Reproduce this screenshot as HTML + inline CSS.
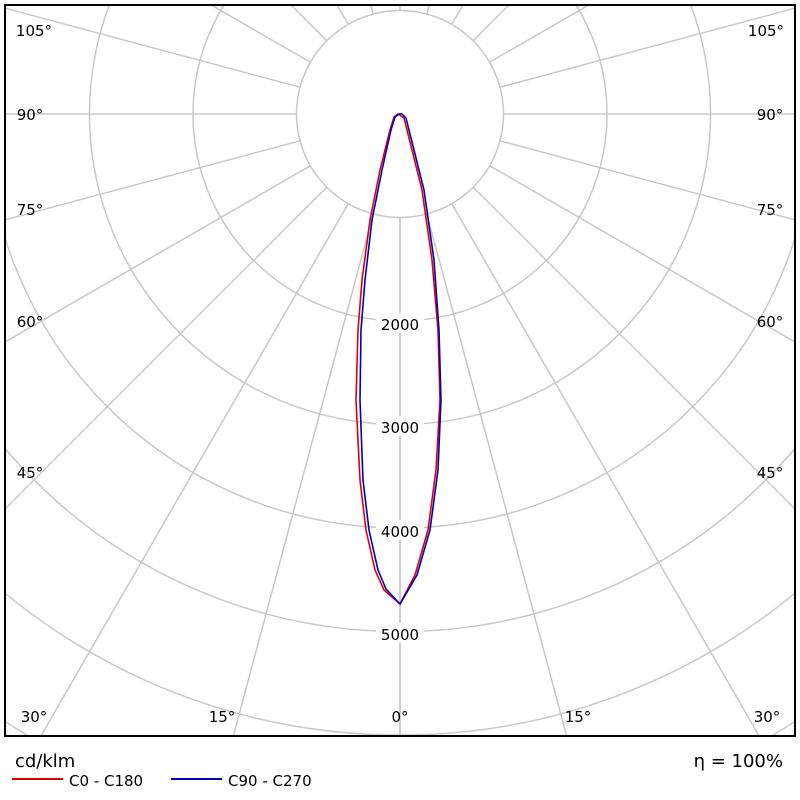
<!DOCTYPE html>
<html><head><style>html,body{margin:0;padding:0;background:#fff;overflow:hidden;width:800px;height:800px}svg{display:block}</style></head><body>
<svg width="800" height="800" xmlns="http://www.w3.org/2000/svg" font-family="DejaVu Sans, Liberation Sans, sans-serif">
<defs><clipPath id="c"><rect x="5" y="5" width="790" height="731"/></clipPath></defs>
<g clip-path="url(#c)" stroke="#c8c8c8" stroke-width="1.5" fill="none">
<circle cx="400" cy="114" r="103.5"/>
<circle cx="400" cy="114" r="207"/>
<circle cx="400" cy="114" r="310.5"/>
<circle cx="400" cy="114" r="414"/>
<circle cx="400" cy="114" r="517.5"/>
<circle cx="400" cy="114" r="621"/>
<circle cx="400" cy="114" r="724.5"/>
<circle cx="400" cy="114" r="828"/>
<g id="rl">
<line x1="400" y1="217.5" x2="400" y2="1200"/>
<line x1="400" y1="217.5" x2="400" y2="1200" transform="rotate(15 400 114)"/>
<line x1="400" y1="217.5" x2="400" y2="1200" transform="rotate(30 400 114)"/>
<line x1="400" y1="217.5" x2="400" y2="1200" transform="rotate(45 400 114)"/>
<line x1="400" y1="217.5" x2="400" y2="1200" transform="rotate(60 400 114)"/>
<line x1="400" y1="217.5" x2="400" y2="1200" transform="rotate(75 400 114)"/>
<line x1="400" y1="217.5" x2="400" y2="1200" transform="rotate(90 400 114)"/>
<line x1="400" y1="217.5" x2="400" y2="1200" transform="rotate(105 400 114)"/>
<line x1="400" y1="217.5" x2="400" y2="1200" transform="rotate(120 400 114)"/>
<line x1="400" y1="217.5" x2="400" y2="1200" transform="rotate(135 400 114)"/>
<line x1="400" y1="217.5" x2="400" y2="1200" transform="rotate(150 400 114)"/>
<line x1="400" y1="217.5" x2="400" y2="1200" transform="rotate(165 400 114)"/>
<line x1="400" y1="217.5" x2="400" y2="1200" transform="rotate(180 400 114)"/>
</g>
<use href="#rl" transform="matrix(-1 0 0 1 800 0)"/>
</g>
<g font-size="15" fill="#000" text-anchor="middle">
<g fill="#fff"><rect x="376" y="313" width="48" height="20"/><rect x="376" y="416" width="48" height="20"/><rect x="376" y="520" width="48" height="20"/><rect x="376" y="623" width="48" height="20"/></g>
<text x="400" y="330">2000</text><text x="400" y="433">3000</text><text x="400" y="537">4000</text><text x="400" y="640">5000</text>
<text x="34" y="36">105°</text><text x="766" y="36">105°</text>
<text x="30" y="120">90°</text><text x="770" y="120">90°</text>
<text x="30" y="215">75°</text><text x="770" y="215">75°</text>
<text x="30" y="327">60°</text><text x="770" y="327">60°</text>
<text x="30" y="478">45°</text><text x="770" y="478">45°</text>
<text x="34" y="722">30°</text><text x="767" y="722">30°</text>
<text x="222" y="722">15°</text><text x="578" y="722">15°</text>
<text x="400" y="722">0°</text>
</g>
<path d="M400,604 L384,590 L375,570 L366,530 L360,480 L356,400 L358,330 L362,280 L370,220 L380,170 L390,130 L394,117 L398,114 L401,116 L404,118 L412,150 L422,190 L432,260 L438,330 L440,400 L436,470 L428,530 L415,575 Z" fill="none" stroke="#e00000" stroke-width="1.6"/>
<path d="M400,604 L386,589 L378,570 L369,530 L363,480 L360,400 L361,330 L365,280 L372,220 L382,170 L391,130 L395,117 L399,114 L402,114 L406,118 L414,150 L424,190 L434,260 L439,330 L441,400 L438,470 L430,530 L417,575 Z" fill="none" stroke="#0000c0" stroke-width="1.6"/>
<rect x="5" y="5" width="790" height="731" fill="none" stroke="#000" stroke-width="2"/>
<text x="15" y="767" font-size="18">cd/klm</text>
<text x="783" y="767" font-size="18" text-anchor="end">η = 100%</text>
<line x1="12" y1="779" x2="63" y2="779" stroke="#e00000" stroke-width="2"/>
<text x="69" y="786" font-size="15">C0 - C180</text>
<line x1="171" y1="779" x2="222" y2="779" stroke="#0000c0" stroke-width="2"/>
<text x="228" y="786" font-size="15">C90 - C270</text>
</svg>
</body></html>
